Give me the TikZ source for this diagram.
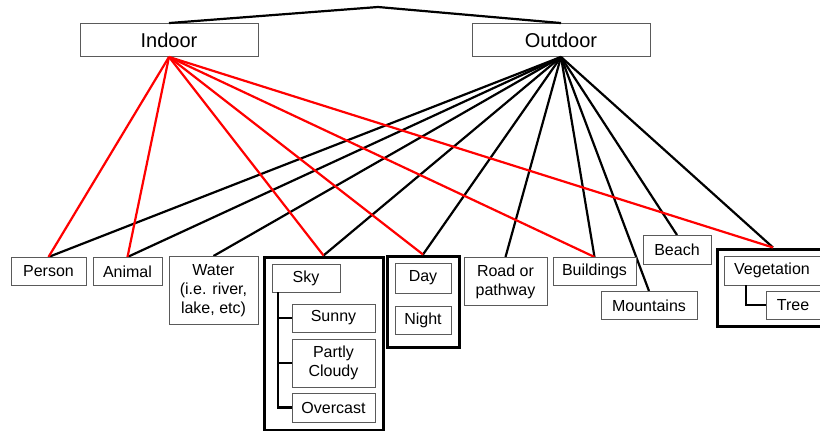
\documentclass[tikz,border=0pt]{standalone}
\usepackage{fontspec}
\setmainfont{Liberation Sans}
\definecolor{boxgray}{RGB}{90,90,90}
\tikzset{
  cat/.style={draw=boxgray,line width=0.9pt,fill=white,align=center,inner sep=0pt,
    font=\fontsize{16}{19}\selectfont},
  topcat/.style={cat,font=\fontsize{20}{22}\selectfont,minimum width=178pt,minimum height=33pt},
  grp/.style={draw=black,line width=3pt,inner sep=0pt},
  inlink/.style={red,line width=2.2pt},
  outlink/.style={black,line width=2.2pt},
  branch/.style={black,line width=2.2pt},
}
\begin{document}
\begin{tikzpicture}[x=1pt,y=-1pt]
\useasboundingbox (0,0) rectangle (820,431);
\clip (0,0) rectangle (820,431);
% group frames
\node[grp,minimum width=119pt,minimum height=173pt] (skygrp) at (323.5,343.5) {};
\node[grp,minimum width=72pt,minimum height=91pt] (daygrp) at (423,301.5) {};
\node[grp,minimum width=112pt,minimum height=77pt] (veggrp) at (773,287.5) {};
% connectors
\coordinate (apex) at (378,7);
\node[topcat] (indoor) at (169,40) {Indoor};
\node[topcat] (outdoor) at (561,40) {Outdoor};
\draw[outlink] (indoor.north) -- (apex) -- (outdoor.north);
\coordinate (person) at (48.5,257);
\coordinate (animal) at (127.5,257);
\coordinate (water) at (213.5,256);
\coordinate (road) at (505.5,257);
\coordinate (buildings) at (594.5,257);
\coordinate (mountains) at (649,291);
\coordinate (beach) at (677,235);
\foreach \t in {person,animal,water,skygrp.north,daygrp.north,road,buildings,mountains,beach,veggrp.north}
  \draw[outlink] (outdoor.south) -- (\t);
\foreach \t in {person,animal,skygrp.north,daygrp.north,buildings,veggrp.north}
  \draw[inlink] (indoor.south) -- (\t);
% categories
\node[cat,minimum width=75pt,minimum height=28pt,anchor=north] (personbox) at (person) {Person};
\node[cat,minimum width=69pt,minimum height=28pt,anchor=north] (animalbox) at (animal) {Animal};
\node[cat,minimum width=89pt,minimum height=68pt,anchor=north] (waterbox) at (water) {Water\\(i.e. river,\\lake, etc)};
\node[cat,minimum width=83pt,minimum height=48pt,anchor=north] (roadbox) at (road) {Road or\\pathway};
\node[cat,minimum width=83pt,minimum height=28pt,anchor=north] (buildingsbox) at (buildings) {Buildings};
\node[cat,minimum width=96pt,minimum height=28pt,anchor=north] (mountainsbox) at (mountains) {Mountains};
\node[cat,minimum width=68pt,minimum height=29pt,anchor=north] (beachbox) at (beach) {Beach};
% sky
\node[cat,minimum width=68pt,minimum height=28pt] (sky) at (306,278) {Sky};
\node[cat,minimum width=83pt,minimum height=28pt] (sunny) at (333.5,318) {Sunny};
\node[cat,minimum width=83pt,minimum height=48pt] (partly) at (333.5,363) {Partly\\Cloudy};
\node[cat,minimum width=83pt,minimum height=29pt] (overcast) at (333.5,407.5) {Overcast};
\coordinate (skyroot) at (278,292);
\draw[branch] (skyroot) |- (overcast.west);
\draw[branch] (skyroot) |- (sunny.west);
\draw[branch] (skyroot) |- (partly.west);
% day
\node[cat,minimum width=56pt,minimum height=30pt] (day) at (423,278) {Day};
\node[cat,minimum width=56pt,minimum height=28pt] (night) at (423,320) {Night};
% vegetation
\node[cat,minimum width=96pt,minimum height=29pt] (veg) at (772,270.5) {Vegetation};
\node[cat,minimum width=54pt,minimum height=28pt] (tree) at (793,305) {Tree};
\coordinate (vegroot) at (746,285);
\draw[branch] (vegroot) |- (tree.west);
\end{tikzpicture}
\end{document}
